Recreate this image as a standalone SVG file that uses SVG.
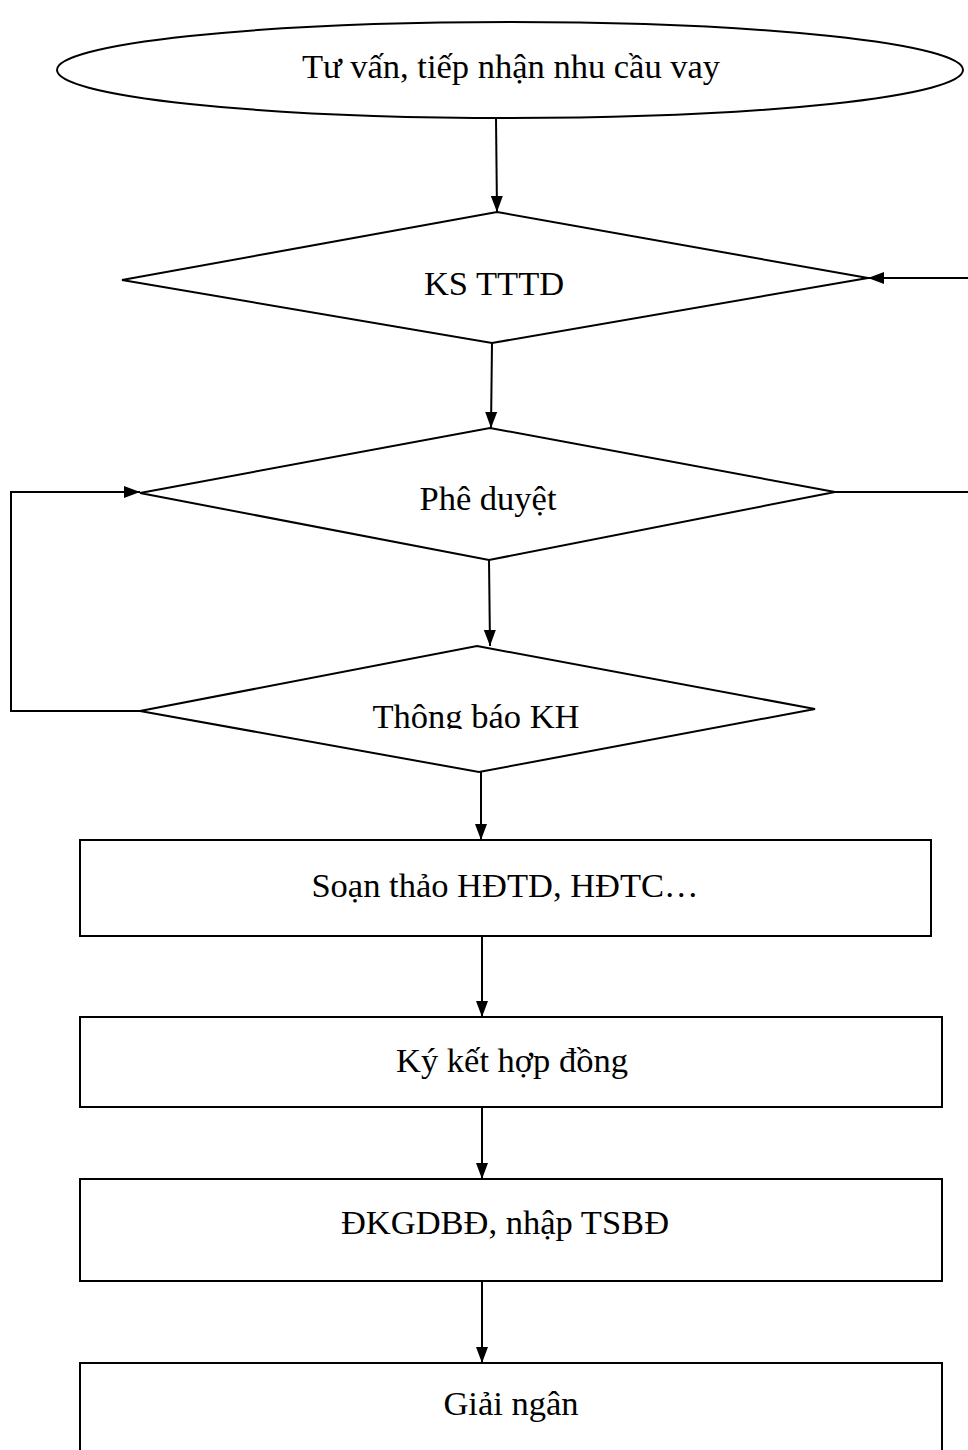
<svg xmlns="http://www.w3.org/2000/svg" width="968" height="1450" viewBox="0 0 968 1450">
<style>
.s{fill:#fff;stroke:#000;stroke-width:2}
.t{font-family:"Liberation Serif","Times New Roman",serif;font-size:34.5px;fill:#000;text-anchor:middle}
.c{fill:none;stroke:#000;stroke-width:2}
</style>
<defs>
<marker id="ah" viewBox="0 0 16 12" refX="16" refY="6" markerWidth="16" markerHeight="13" markerUnits="userSpaceOnUse" orient="auto">
<path d="M0,0 L16,6 L0,12 Z" fill="#000"/>
</marker>
<clipPath id="clip3"><rect x="0" y="600" width="968" height="129"/></clipPath>
</defs>
<rect width="968" height="1450" fill="#fff"/>
<g id="n1"><ellipse class="s" cx="510" cy="70" rx="453" ry="48"/><text class="t" x="511" y="78">Tư vấn, tiếp nhận nhu cầu vay</text></g>
<g id="n2"><polygon class="s" points="497,212 868,278 492,343 122,280"/><text class="t" x="494" y="295">KS TTTD</text></g>
<g id="n3"><polygon class="s" points="490,428 835,492 489,560 140,493"/><text class="t" x="488" y="510">Phê duyệt</text></g>
<g id="n4"><polygon class="s" points="477,646 815,709 479,772 140,711"/><text class="t" x="476" y="728" clip-path="url(#clip3)">Thông báo KH</text></g>
<g id="n5"><rect class="s" x="80" y="840" width="851" height="96"/><text class="t" x="505" y="897">Soạn thảo HĐTD, HĐTC…</text></g>
<g id="n6"><rect class="s" x="80" y="1017" width="862" height="90"/><text class="t" x="512" y="1072">Ký kết hợp đồng</text></g>
<g id="n7"><rect class="s" x="80" y="1179" width="862" height="102"/><text class="t" x="505" y="1234">ĐKGDBĐ, nhập TSBĐ</text></g>
<g id="n8"><rect class="s" x="80" y="1363" width="862" height="100"/><text class="t" x="511" y="1415">Giải ngân</text></g>
<g id="connectors">
<line class="c" x1="496" y1="118" x2="497" y2="212" marker-end="url(#ah)"/>
<line class="c" x1="968" y1="278" x2="868" y2="278" marker-end="url(#ah)"/>
<line class="c" x1="492" y1="343" x2="491" y2="428" marker-end="url(#ah)"/>
<line class="c" x1="835" y1="492" x2="968" y2="492"/>
<polyline class="c" points="140,711 11,711 11,492 140,492" marker-end="url(#ah)"/>
<line class="c" x1="489" y1="560" x2="490" y2="646" marker-end="url(#ah)"/>
<line class="c" x1="481" y1="772" x2="481" y2="840" marker-end="url(#ah)"/>
<line class="c" x1="482" y1="936" x2="482" y2="1017" marker-end="url(#ah)"/>
<line class="c" x1="482" y1="1107" x2="482" y2="1179" marker-end="url(#ah)"/>
<line class="c" x1="482" y1="1281" x2="482" y2="1363" marker-end="url(#ah)"/>
</g>
</svg>
